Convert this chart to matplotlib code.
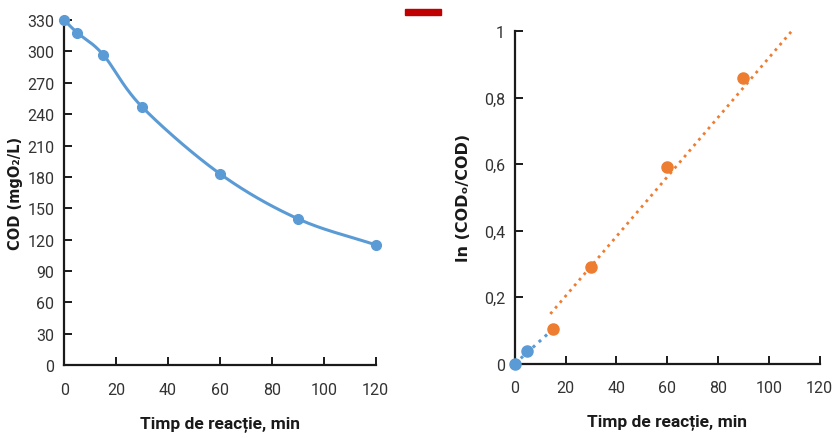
import numpy as np
import matplotlib.pyplot as plt
from matplotlib.patches import Rectangle

# ── data ──────────────────────────────────────────────────────────────────────
time_min = [0, 5, 15, 30, 60, 90, 120]
cod_vals = [330, 318, 297, 247, 183, 140, 115]

blue_t = [0, 5]
blue_ln = [0.0, 0.037]
orange_t = [15, 30, 60, 90]
orange_ln = [0.105, 0.29, 0.59, 0.86]

# dotted trend lines (end points)
blue_fit_t = [0, 14]
blue_fit_ln = [0.0, 0.097]
orange_fit_t = [14, 109]
orange_fit_ln = [0.15, 1.0]

x_ticks = [0, 20, 40, 60, 80, 100, 120]
cod_ticks = list(range(0, 331, 30))
ln_ticks = [0, 0.2, 0.4, 0.6, 0.8, 1]
ln_labels = ["0", "0,2", "0,4", "0,6", "0,8", "1"]

BLUE = "#5b9bd5"
ORANGE = "#ed7d31"
INK = "#1a1a1a"

plt.rcParams["font.family"] = ["Roboto", "DejaVu Sans"]


def smooth(x, y, n=30):
    """Catmull-Rom curve through the points, like Excel's smoothed line."""
    x = np.asarray(x, float)
    y = np.asarray(y, float)
    px = np.concatenate([[2 * x[0] - x[1]], x, [2 * x[-1] - x[-2]]])
    py = np.concatenate([[2 * y[0] - y[1]], y, [2 * y[-1] - y[-2]]])
    xs, ys = [], []
    t = np.linspace(0, 1, n)
    for i in range(1, len(px) - 2):
        for p, out in ((px, xs), (py, ys)):
            p0, p1, p2, p3 = p[i - 1], p[i], p[i + 1], p[i + 2]
            out.extend(0.5 * ((2 * p1) + (-p0 + p2) * t
                              + (2 * p0 - 5 * p1 + 4 * p2 - p3) * t ** 2
                              + (-p0 + 3 * p1 - 3 * p2 + p3) * t ** 3))
    return xs, ys


def style_axes(ax):
    for s in ("top", "right"):
        ax.spines[s].set_visible(False)
    for s in ("left", "bottom"):
        ax.spines[s].set_color(INK)
        ax.spines[s].set_linewidth(1.6)
    ax.tick_params(direction="in", length=6, width=1.4, color=INK,
                   labelsize=11.5, labelcolor="#333333")
    ax.tick_params(axis="x", pad=12)
    ax.tick_params(axis="y", pad=7)
    ax.set_xlabel("Timp de reacție, min", fontsize=12.5, fontweight="bold",
                  labelpad=13, color=INK)


fig = plt.figure(figsize=(8.33, 4.39), dpi=100)

# ── left: COD vs time ────────────────────────────────────────────────────────
ax1 = fig.add_axes([0.077, 0.166, 0.374, 0.786])
sx, sy = smooth(time_min, cod_vals)
ax1.plot(sx, sy, color=BLUE, lw=2.2, clip_on=False)
ax1.plot(time_min, cod_vals, "o", color=BLUE, ms=7, clip_on=False, zorder=3)
ax1.set_xlim(0, 120)
ax1.set_ylim(0, 330)
ax1.set_xticks(x_ticks)
ax1.set_yticks(cod_ticks)
style_axes(ax1)
ax1.set_ylabel("COD (mgO₂/L)", fontsize=10.5, fontweight="bold",
               family="DejaVu Sans", color=INK, labelpad=3)

# ── right: ln(COD0/COD) vs time ──────────────────────────────────────────────
ax2 = fig.add_axes([0.618, 0.169, 0.366, 0.758])
ax2.plot(blue_fit_t, blue_fit_ln, ":", color=BLUE, lw=2.2)
ax2.plot(orange_fit_t, orange_fit_ln, ":", color=ORANGE, lw=2.0, clip_on=False)
ax2.plot(blue_t, blue_ln, "o", color=BLUE, ms=8, clip_on=False, zorder=3)
ax2.plot(orange_t, orange_ln, "o", color=ORANGE, ms=8, clip_on=False, zorder=3)
ax2.set_xlim(0, 120)
ax2.set_ylim(0, 1)
ax2.set_xticks(x_ticks)
ax2.set_yticks(ln_ticks)
ax2.set_yticklabels(ln_labels)
style_axes(ax2)
ax2.set_ylabel("ln (CODₒ/COD)", fontsize=11.5, fontweight="bold",
               family="DejaVu Sans", color=INK, labelpad=9)

# small red bar at the top, as in the source page
fig.patches.append(Rectangle((405 / 833, 1 - 16 / 439), 36 / 833, 6 / 439,
                             transform=fig.transFigure, color="#c00000"))

fig.savefig("out.png", dpi=100)
